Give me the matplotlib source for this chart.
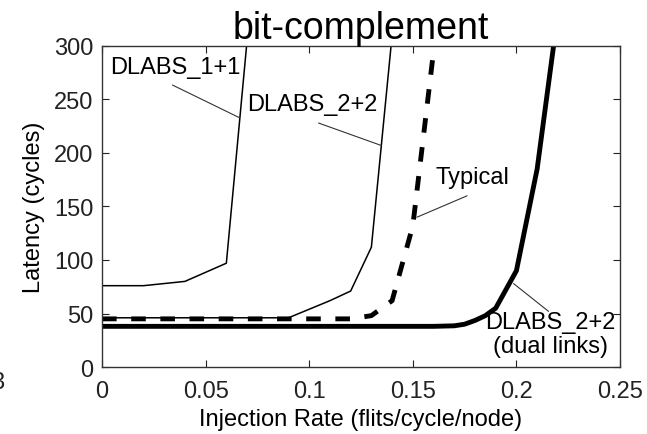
import matplotlib
matplotlib.use("Agg")
import matplotlib.pyplot as plt

plt.rcParams["font.family"] = ["Liberation Sans", "DejaVu Sans"]

# injection rate (flits/cycle/node) vs. latency (cycles)
rate_1p1 = [0.0, 0.02, 0.04, 0.06, 0.07]
lat_1p1 = [76, 76, 80, 97, 305]

rate_2p2 = [0.0, 0.02, 0.04, 0.06, 0.08, 0.09, 0.10, 0.11, 0.12, 0.13, 0.14]
lat_2p2 = [46, 46, 46, 46, 46, 46, 54, 62, 71, 112, 310]

rate_typ = [0.0, 0.02, 0.04, 0.06, 0.08, 0.10, 0.12, 0.13, 0.14, 0.15, 0.16]
lat_typ = [45, 45, 45, 45, 45, 45, 45, 48, 62, 132, 295]

rate_dual = [0.0, 0.04, 0.08, 0.12, 0.16, 0.17, 0.175, 0.18, 0.185, 0.19, 0.20, 0.21, 0.22]
lat_dual = [38, 38, 38, 38, 38, 38.5, 40, 43.5, 48, 55, 90, 185, 330]

x_ticks = [0, 0.05, 0.1, 0.15, 0.2, 0.25]
x_tick_labels = ["0", "0.05", "0.1", "0.15", "0.2", "0.25"]
y_ticks = [0, 50, 100, 150, 200, 250, 300]

fig = plt.figure(figsize=(6.47, 4.35), dpi=100)
ax = fig.add_axes([0.1577, 0.154, 0.8006, 0.738])

ax.plot(rate_1p1, lat_1p1, color="black", lw=1.1)
ax.plot(rate_2p2, lat_2p2, color="black", lw=1.1)
ax.plot(rate_typ, lat_typ, color="black", lw=3.5, ls=(0, (3, 3)))
ax.plot(rate_dual, lat_dual, color="black", lw=3.5, solid_joinstyle="round")

ax.set_xlim(0, 0.25)
ax.set_ylim(0, 300)
ax.set_xticks(x_ticks)
ax.set_xticklabels(x_tick_labels)
ax.set_yticks(y_ticks)
ax.tick_params(direction="in", length=5, width=0.8, top=True, right=True,
               labelsize=17, colors="#222222")
ax.tick_params(axis="x", pad=9)
ax.tick_params(axis="y", pad=6)
for s in ax.spines.values():
    s.set_color("#333333")
    s.set_linewidth(1.0)

ax.set_xlabel("Injection Rate (flits/cycle/node)", fontsize=17, labelpad=5)
ax.set_ylabel("Latency (cycles)", fontsize=17, labelpad=7)
ax.set_title("bit-complement", fontsize=27, pad=6)

# curve labels with leader lines
lead = dict(arrowstyle="-", color="#333333", lw=0.8, shrinkA=0, shrinkB=0)
ax.text(0.004, 280, "DLABS_1+1", fontsize=17, va="center")
ax.annotate("", xy=(0.0663, 233), xytext=(0.034, 263.5), arrowprops=lead)
ax.text(0.070, 246, "DLABS_2+2", fontsize=17, va="center")
ax.annotate("", xy=(0.1348, 207), xytext=(0.1045, 228), arrowprops=lead)
ax.text(0.161, 178, "Typical", fontsize=17, va="center")
ax.annotate("", xy=(0.152, 140), xytext=(0.1762, 160), arrowprops=lead)
ax.text(0.2164, 31, "DLABS_2+2\n(dual links)", fontsize=17, ha="center",
        va="center", linespacing=1.1)
ax.annotate("", xy=(0.1986, 78), xytext=(0.2155, 52), arrowprops=lead)

# cropped glyph fragment at the left edge of the original image
fig.text(-0.014, 0.12, "3", fontsize=17, va="center", color="#222222")

fig.savefig("out.png", dpi=100)
